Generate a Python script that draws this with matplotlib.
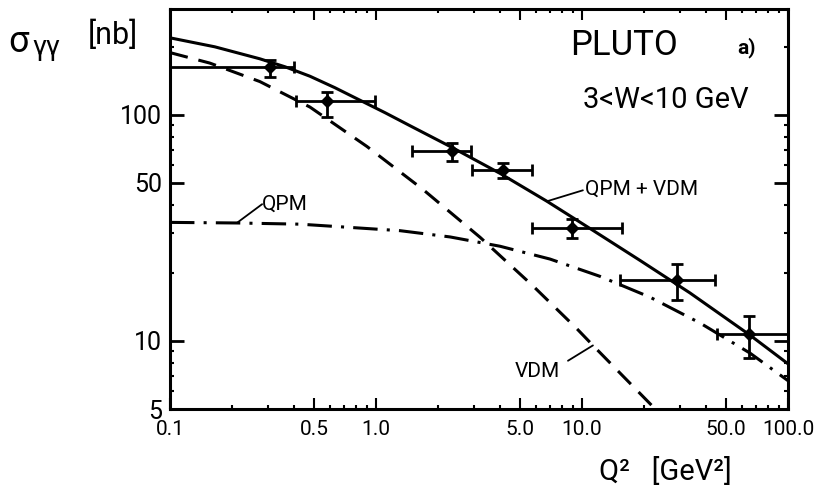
import matplotlib
matplotlib.use("Agg")
import matplotlib.pyplot as plt
from matplotlib.ticker import FixedLocator, FixedFormatter, NullFormatter

plt.rcParams['font.family'] = ['Roboto', 'DejaVu Sans']

# Measured cross sections (PLUTO, 3 < W < 10 GeV)
q2 = [0.306, 0.578, 2.34, 4.14, 8.94, 28.9, 64.7]
q2_low = [0.1, 0.41, 1.49, 2.93, 5.72, 15.3, 45.2]
q2_high = [0.40, 0.99, 2.89, 5.72, 15.6, 44.2, 100.0]
sigma = [163, 115, 69.4, 56.7, 31.5, 18.6, 10.7]
sigma_low = [146, 98, 62.7, 52.7, 28.4, 15.2, 8.4]
sigma_high = [175, 126, 75.3, 61.4, 34.5, 21.8, 12.9]

# Model curves
sum_q2 = [0.1, 0.165, 0.273, 0.362, 0.478, 0.632, 0.836, 1.106, 1.46, 2.34,
          4.0, 6.76, 11.3, 19.1, 33.4, 65.4, 100.0]
sum_sigma = [218.5, 199.4, 176.5, 162.7, 147.8, 131.5, 115.8, 102.0, 89.4, 71.6,
             55.0, 41.4, 30.8, 22.7, 16.3, 10.6, 7.92]

vdm_q2 = [0.1, 0.156, 0.273, 0.478, 0.904, 1.69, 3.20, 5.78, 9.46, 11.3, 22.1, 23.9]
vdm_sigma = [188, 169, 140, 108, 72.3, 46.7, 28.7, 17.5, 11.3, 9.55, 5.12, 4.77]

qpm_q2 = [0.1, 0.211, 0.428, 1.308, 2.29, 4.00, 6.99, 12.2, 21.4, 37.4, 65.4, 100.0]
qpm_sigma = [33.4, 33.2, 32.8, 30.7, 28.8, 26.2, 23.0, 19.3, 15.6, 12.0, 8.83, 6.67]

x_ticks = [0.1, 0.5, 1.0, 5.0, 10.0, 50.0, 100.0]
x_tick_labels = ["0.1", "0.5", "1.0", "5.0", "10.0", "50.0", "100.0"]
y_ticks = [5, 10, 50, 100]
y_tick_labels = ["5", "10", "50", "100"]

W, H = 816, 494
fig = plt.figure(figsize=(W / 100, H / 100), dpi=100)
ax = fig.add_axes([170 / W, 1 - 409 / H, (788 - 170) / W, (409 - 9) / H])
ax.set_xscale('log')
ax.set_yscale('log')
ax.set_xlim(0.1, 100)
ax.set_ylim(5, 293)

lw = 2.2
ax.plot(sum_q2, sum_sigma, color='black', lw=lw, solid_capstyle='butt')
ax.plot(vdm_q2, vdm_sigma, color='black', lw=lw, dashes=(6, 3.6))
ax.plot(qpm_q2, qpm_sigma, color='black', lw=lw, dashes=(8, 3, 1, 3))

xerr = [[c - lo for c, lo in zip(q2, q2_low)], [hi - c for c, hi in zip(q2, q2_high)]]
yerr = [[c - lo for c, lo in zip(sigma, sigma_low)], [hi - c for c, hi in zip(sigma, sigma_high)]]
ax.errorbar(q2, sigma, xerr=xerr, yerr=yerr, fmt='D', color='black', ms=6,
            elinewidth=2.0, capsize=4, capthick=2.0, clip_on=False, zorder=5)

for side in ax.spines.values():
    side.set_linewidth(2.2)

ax.xaxis.set_major_locator(FixedLocator(x_ticks))
ax.xaxis.set_major_formatter(FixedFormatter(x_tick_labels))
x_minor = [0.2, 0.3, 0.4, 0.6, 0.7, 0.8, 0.9, 2, 3, 4, 6, 7, 8, 9,
           20, 30, 40, 60, 70, 80, 90]
ax.xaxis.set_minor_locator(FixedLocator(x_minor))
ax.xaxis.set_minor_formatter(NullFormatter())

ax.yaxis.set_major_locator(FixedLocator(y_ticks))
ax.yaxis.set_major_formatter(FixedFormatter(y_tick_labels))
y_minor = [6, 7, 8, 9, 20, 30, 40, 60, 70, 80, 90, 200]
ax.yaxis.set_minor_locator(FixedLocator(y_minor))
ax.yaxis.set_minor_formatter(NullFormatter())

ax.tick_params(which='both', direction='in', top=True, right=True, color='black')
ax.tick_params(axis='x', which='major', length=8, width=1.5, labelsize=15, pad=8)
ax.tick_params(axis='y', which='major', length=10, width=2.0, labelsize=18, pad=6)
ax.tick_params(which='minor', length=3, width=1.5)


def px(x, y):
    return x / W, 1 - y / H


# Axis titles
fig.text(*px(8, 52), "σ", fontsize=26, ha='left', va='baseline')
fig.text(*px(32, 55), "γγ", fontsize=20, ha='left', va='baseline')
fig.text(*px(88, 44), "[nb]", fontsize=22, ha='left', va='baseline')
fig.text(*px(599, 480), "Q²   [GeV²]", fontsize=21, ha='left', va='baseline')

# Panel annotations
fig.text(*px(570, 55), "PLUTO", fontsize=25, ha='left', va='baseline')
fig.text(*px(737, 53), "a)", fontsize=15, fontweight='bold', ha='left', va='baseline')
fig.text(*px(583, 108), "3<W<10 GeV", fontsize=21, ha='left', va='baseline')

# Curve labels with leader lines
label_style = dict(fontsize=15, ha='left', va='baseline')
fig.text(*px(585, 195), "QPM + VDM", **label_style)
fig.text(*px(262, 210), "QPM", **label_style)
fig.text(*px(515, 377), "VDM", **label_style)

leader = dict(arrowstyle='-', color='black', lw=1.3, shrinkA=0, shrinkB=0)
ax.annotate("", xy=(sum_q2[11], sum_sigma[11]), xytext=(10.1, 46.3), arrowprops=leader)
ax.annotate("", xy=(qpm_q2[1], qpm_sigma[1]), xytext=(0.280, 40.2), arrowprops=leader)
ax.annotate("", xy=(vdm_q2[9], vdm_sigma[9]), xytext=(8.55, 8.17), arrowprops=leader)

fig.savefig("out.png", dpi=100)
